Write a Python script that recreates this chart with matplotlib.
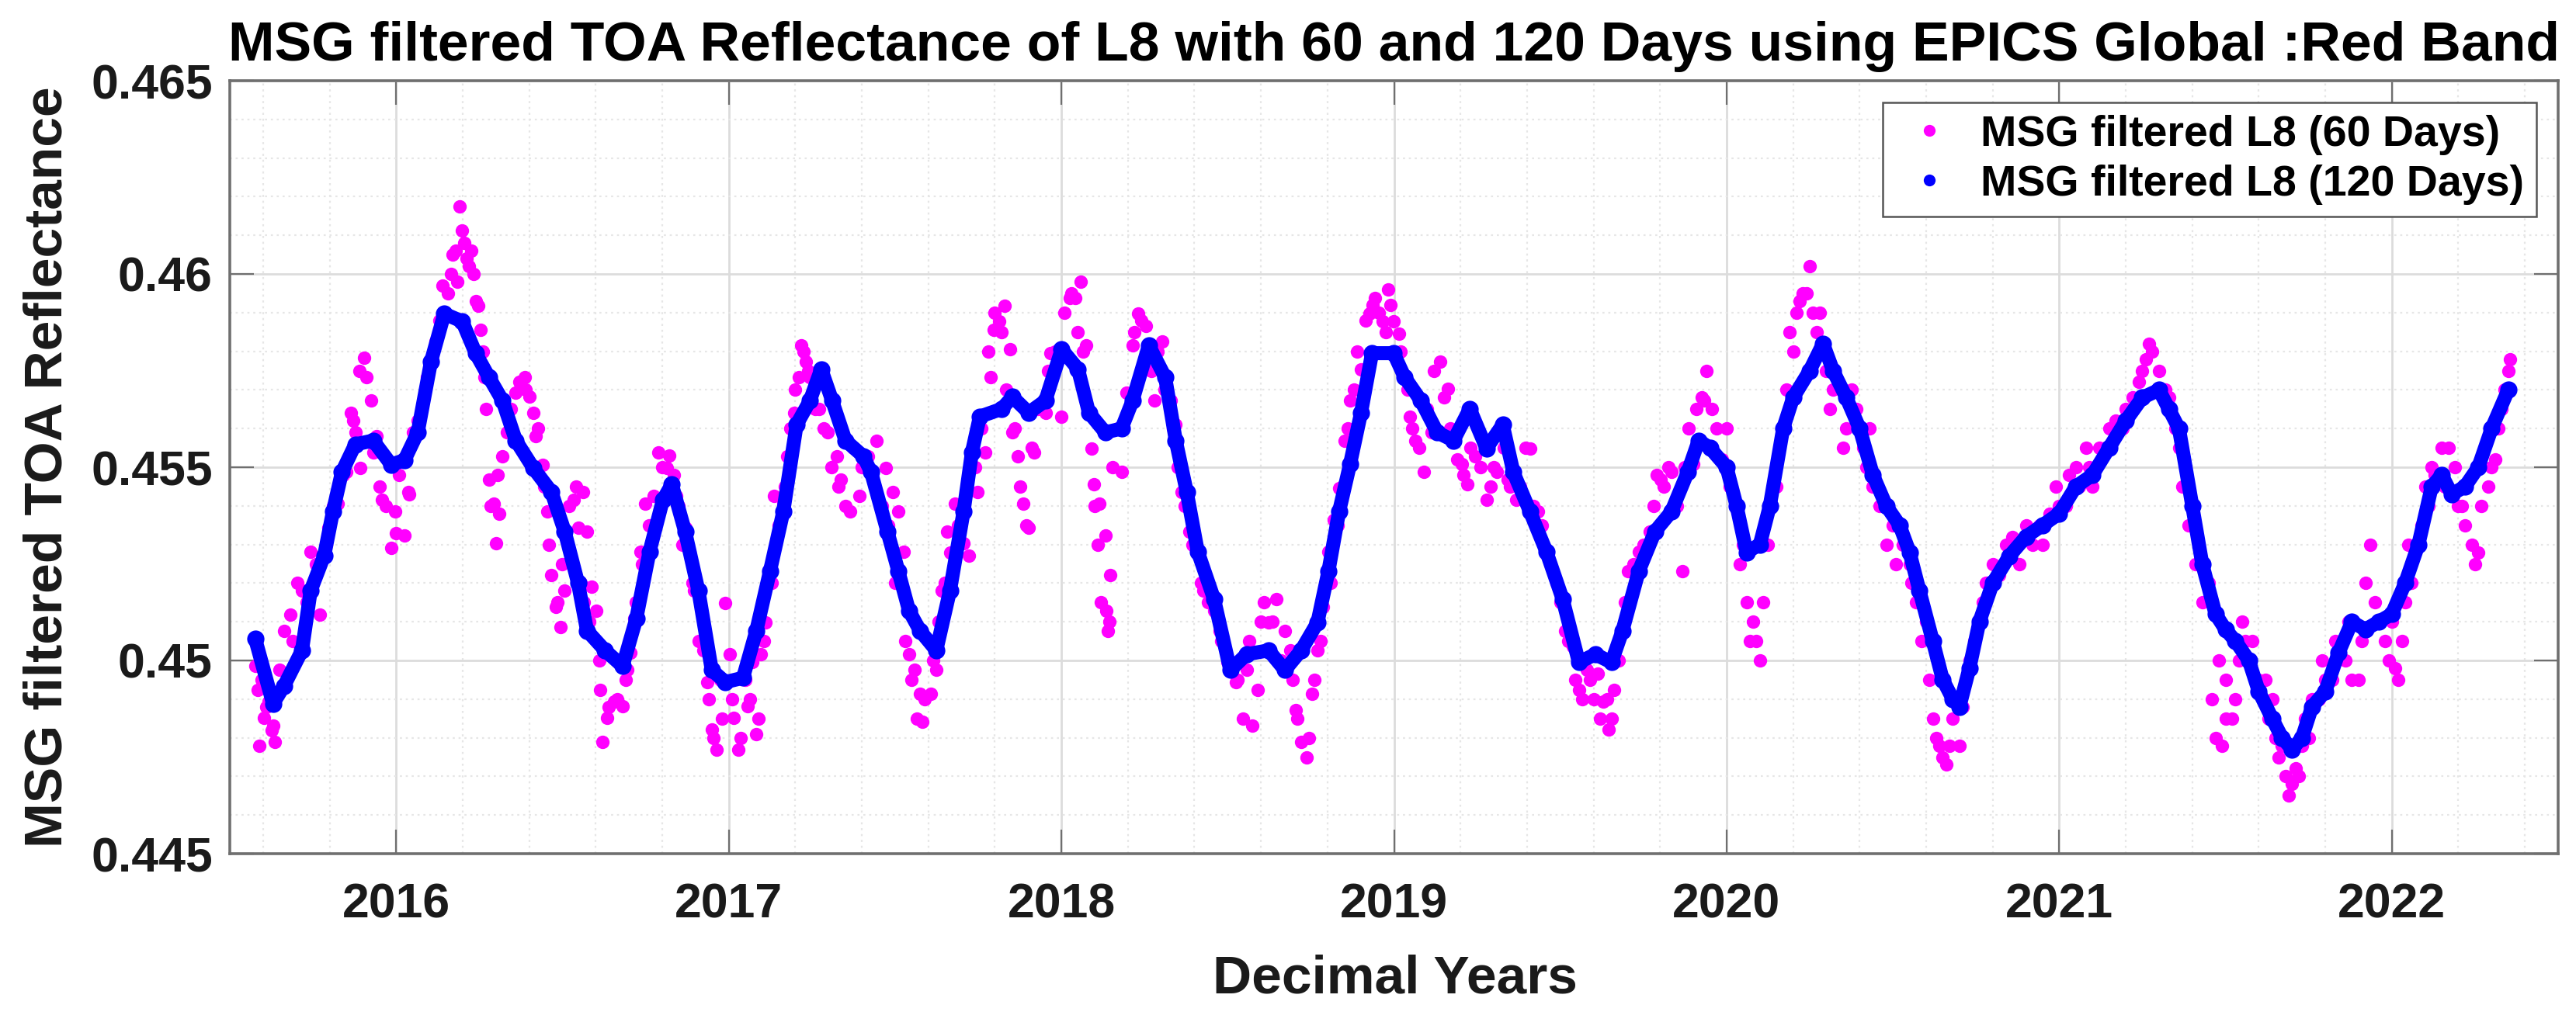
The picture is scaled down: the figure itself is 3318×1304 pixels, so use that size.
import matplotlib
matplotlib.use("Agg")
import matplotlib.pyplot as plt
from matplotlib.lines import Line2D
from matplotlib.ticker import MultipleLocator, FixedLocator

# ---------------- data ----------------
# 120-day filtered series (blue)
years_120 = [2015.576, 2015.630, 2015.663, 2015.717, 2015.743, 2015.784, 2015.810, 2015.837, 2015.877, 2015.931,
             2015.985, 2016.025, 2016.065, 2016.105, 2016.145, 2016.199, 2016.239, 2016.279, 2016.320, 2016.360,
             2016.413, 2016.467, 2016.507, 2016.547, 2016.574, 2016.628, 2016.681, 2016.722, 2016.762, 2016.802,
             2016.829, 2016.869, 2016.909, 2016.949, 2016.990, 2017.043, 2017.083, 2017.124, 2017.164, 2017.204,
             2017.244, 2017.278, 2017.311, 2017.351, 2017.405, 2017.428, 2017.477, 2017.510, 2017.542, 2017.575,
             2017.624, 2017.665, 2017.706, 2017.731, 2017.755, 2017.821, 2017.853, 2017.902, 2017.952, 2018.001,
             2018.050, 2018.083, 2018.132, 2018.181, 2018.214, 2018.263, 2018.312, 2018.344, 2018.377, 2018.410,
             2018.459, 2018.508, 2018.557, 2018.623, 2018.672, 2018.721, 2018.770, 2018.803, 2018.835, 2018.868,
             2018.901, 2018.934, 2018.999, 2019.032, 2019.081, 2019.130, 2019.179, 2019.228, 2019.278, 2019.327,
             2019.359, 2019.409, 2019.458, 2019.507, 2019.556, 2019.605, 2019.654, 2019.687, 2019.736, 2019.785,
             2019.834, 2019.883, 2019.916, 2019.950, 2020.000, 2020.030, 2020.060, 2020.100, 2020.130, 2020.170,
             2020.200, 2020.250, 2020.290, 2020.320, 2020.360, 2020.400, 2020.440, 2020.480, 2020.520, 2020.550,
             2020.580, 2020.620, 2020.650, 2020.680, 2020.700, 2020.730, 2020.760, 2020.800, 2020.850, 2020.900,
             2020.950, 2021.000, 2021.050, 2021.100, 2021.150, 2021.200, 2021.250, 2021.300, 2021.330, 2021.360,
             2021.400, 2021.430, 2021.470, 2021.500, 2021.530, 2021.570, 2021.600, 2021.640, 2021.670, 2021.700,
             2021.730, 2021.760, 2021.800, 2021.840, 2021.880, 2021.920, 2021.960, 2022.000, 2022.040, 2022.080,
             2022.120, 2022.150, 2022.180, 2022.220, 2022.260, 2022.300, 2022.350]
refl_120 = [0.45057, 0.44888, 0.44934, 0.45026, 0.45180, 0.45272, 0.45385, 0.45487, 0.45559, 0.45569,
            0.45507, 0.45518, 0.45590, 0.45774, 0.45897, 0.45877, 0.45795, 0.45733, 0.45672, 0.45569,
            0.45497, 0.45436, 0.45333, 0.45200, 0.45077, 0.45026, 0.44985, 0.45108, 0.45282, 0.45415,
            0.45456, 0.45333, 0.45180, 0.44975, 0.44944, 0.44955, 0.45077, 0.45231, 0.45385, 0.45610,
            0.45672, 0.45754, 0.45672, 0.45569, 0.45528, 0.45487, 0.45334, 0.45231, 0.45129, 0.45077,
            0.45026, 0.45180, 0.45385, 0.45538, 0.45631, 0.45651, 0.45682, 0.45641, 0.45672, 0.45805,
            0.45754, 0.45641, 0.45590, 0.45600, 0.45672, 0.45815, 0.45733, 0.45569, 0.45436, 0.45282,
            0.45159, 0.44975, 0.45016, 0.45026, 0.44975, 0.45026, 0.45098, 0.45231, 0.45385, 0.45508,
            0.45641, 0.45795, 0.45795, 0.45733, 0.45672, 0.45590, 0.45569, 0.45651, 0.45549, 0.45610,
            0.45487, 0.45385, 0.45282, 0.45159, 0.44995, 0.45016, 0.44995, 0.45077, 0.45231, 0.45334,
            0.45385, 0.45487, 0.45569, 0.45550, 0.45500, 0.45400, 0.45280, 0.45300, 0.45400, 0.45600,
            0.45680, 0.45750, 0.45820, 0.45750, 0.45680, 0.45600, 0.45480, 0.45400, 0.45350, 0.45280,
            0.45180, 0.45050, 0.44950, 0.44900, 0.44880, 0.44980, 0.45100, 0.45200, 0.45270, 0.45320,
            0.45350, 0.45380, 0.45450, 0.45480, 0.45550, 0.45620, 0.45680, 0.45700, 0.45650, 0.45600,
            0.45400, 0.45250, 0.45120, 0.45080, 0.45050, 0.45000, 0.44920, 0.44850, 0.44800, 0.44770,
            0.44800, 0.44880, 0.44920, 0.45020, 0.45100, 0.45080, 0.45100, 0.45120, 0.45200, 0.45300,
            0.45450, 0.45480, 0.45430, 0.45450, 0.45500, 0.45600, 0.45700]

# 60-day filtered series (magenta), first reading pass
years_60a = [2015.576, 2015.583, 2015.589, 2015.603, 2015.616, 2015.630, 2015.636, 2015.650, 2015.663, 2015.683,
             2015.703, 2015.717, 2015.743, 2015.770, 2015.797, 2015.824, 2015.851, 2015.864, 2015.877, 2015.891,
             2015.904, 2015.911, 2015.924, 2015.931, 2015.958, 2015.985, 2015.998, 2016.025, 2016.038, 2016.052,
             2016.065, 2016.092, 2016.119, 2016.139, 2016.166, 2016.179, 2016.192, 2016.199, 2016.212, 2016.226,
             2016.232, 2016.246, 2016.253, 2016.266, 2016.279, 2016.293, 2016.300, 2016.320, 2016.333, 2016.360,
             2016.387, 2016.400, 2016.413, 2016.427, 2016.440, 2016.454, 2016.467, 2016.480, 2016.494, 2016.507,
             2016.534, 2016.547, 2016.561, 2016.574, 2016.588, 2016.601, 2016.614, 2016.621, 2016.635, 2016.655,
             2016.681, 2016.695, 2016.715, 2016.735, 2016.748, 2016.775, 2016.788, 2016.815, 2016.842, 2016.869,
             2016.882, 2016.896, 2016.923, 2016.936, 2016.949, 2016.963, 2016.990, 2017.003, 2017.016, 2017.030,
             2017.057, 2017.070, 2017.083, 2017.097, 2017.110, 2017.124, 2017.137, 2017.164, 2017.177, 2017.197,
             2017.211, 2017.217, 2017.231, 2017.244, 2017.271, 2017.298, 2017.325, 2017.338, 2017.365, 2017.392,
             2017.418, 2017.445, 2017.472, 2017.493, 2017.510, 2017.526, 2017.542, 2017.559, 2017.575, 2017.583,
             2017.608, 2017.624, 2017.641, 2017.657, 2017.681, 2017.706, 2017.722, 2017.747, 2017.772, 2017.788,
             2017.796, 2017.812, 2017.829, 2017.845, 2017.853, 2017.870, 2017.886, 2017.902, 2017.919, 2017.952,
             2017.968, 2018.001, 2018.025, 2018.042, 2018.058, 2018.074, 2018.091, 2018.099, 2018.115, 2018.132,
             2018.148, 2018.136, 2018.140, 2018.181, 2018.197, 2018.214, 2018.230, 2018.254, 2018.279, 2018.303,
             2018.328, 2018.344, 2018.361, 2018.385, 2018.410, 2018.426, 2018.459, 2018.475, 2018.500, 2018.525,
             2018.557, 2018.574, 2018.590, 2018.623, 2018.647, 2018.672, 2018.688, 2018.705, 2018.721, 2018.737,
             2018.754, 2018.770, 2018.786, 2018.803, 2018.819, 2018.835, 2018.852, 2018.868, 2018.901, 2018.926,
             2018.942, 2018.967, 2018.983, 2018.999, 2019.016, 2019.032, 2019.048, 2019.065, 2019.089, 2019.114,
             2019.138, 2019.163, 2019.179, 2019.204, 2019.220, 2019.245, 2019.278, 2019.310, 2019.343, 2019.368,
             2019.409, 2019.433, 2019.458, 2019.490, 2019.515, 2019.539, 2019.556, 2019.580, 2019.613, 2019.629,
             2019.646, 2019.662, 2019.687, 2019.703, 2019.736, 2019.769, 2019.801, 2019.834, 2019.867, 2019.899,
             2019.932, 2020.000, 2020.050, 2020.080, 2020.100, 2020.150, 2020.200, 2020.230, 2020.250, 2020.280,
             2020.320, 2020.350, 2020.400, 2020.450, 2020.500, 2020.550, 2020.600, 2020.630, 2020.660, 2020.700,
             2020.720, 2020.760, 2020.800, 2020.850, 2020.900, 2020.950, 2021.000, 2021.050, 2021.100, 2021.150,
             2021.200, 2021.250, 2021.280, 2021.320, 2021.350, 2021.400, 2021.450, 2021.480, 2021.500, 2021.530,
             2021.560, 2021.600, 2021.630, 2021.660, 2021.690, 2021.720, 2021.750, 2021.800, 2021.850, 2021.900,
             2021.950, 2022.000, 2022.020, 2022.050, 2022.100, 2022.150, 2022.200, 2022.250, 2022.300, 2022.350]
refl_60a = [0.44985, 0.44923, 0.44780, 0.44852, 0.44893, 0.44831, 0.44790, 0.44975, 0.45077, 0.45118,
            0.45200, 0.45180, 0.45282, 0.45118, 0.45344, 0.45405, 0.45487, 0.45641, 0.45590, 0.45497,
            0.45784, 0.45733, 0.45672, 0.45538, 0.45415, 0.45292, 0.45385, 0.45323, 0.45436, 0.45590,
            0.45620, 0.45733, 0.45825, 0.45969, 0.46000, 0.46061, 0.46174, 0.46112, 0.46041, 0.46061,
            0.46000, 0.45918, 0.45856, 0.45733, 0.45467, 0.45405, 0.45303, 0.45528, 0.45590, 0.45692,
            0.45733, 0.45682, 0.45641, 0.45600, 0.45507, 0.45385, 0.45221, 0.45139, 0.45087, 0.45180,
            0.45415, 0.45344, 0.45436, 0.45333, 0.45190, 0.45128, 0.44923, 0.44790, 0.44852, 0.44893,
            0.44882, 0.44975, 0.45108, 0.45282, 0.45405, 0.45426, 0.45538, 0.45497, 0.45426, 0.45344,
            0.45282, 0.45180, 0.45026, 0.44944, 0.44821, 0.44770, 0.45149, 0.45016, 0.44852, 0.44770,
            0.44882, 0.44995, 0.44810, 0.45016, 0.45098, 0.45241, 0.45426, 0.45405, 0.45528, 0.45641,
            0.45733, 0.45815, 0.45774, 0.45733, 0.45651, 0.45590, 0.45528, 0.45467, 0.45385, 0.45426,
            0.45528, 0.45569, 0.45497, 0.45436, 0.45385, 0.45282, 0.45016, 0.44975, 0.44913, 0.44841,
            0.44913, 0.44975, 0.45180, 0.45333, 0.45405, 0.45303, 0.45272, 0.45436, 0.45538, 0.45733,
            0.45856, 0.45877, 0.45918, 0.45805, 0.45590, 0.45528, 0.45405, 0.45344, 0.45538, 0.45641,
            0.45795, 0.45631, 0.45938, 0.45938, 0.45979, 0.45815, 0.45549, 0.45456, 0.45405, 0.45323,
            0.45221, 0.45128, 0.45077, 0.45487, 0.45692, 0.45815, 0.45897, 0.45866, 0.45672, 0.45825,
            0.45672, 0.45610, 0.45436, 0.45333, 0.45282, 0.45180, 0.45128, 0.45077, 0.44995, 0.44944,
            0.44975, 0.44831, 0.44923, 0.45098, 0.45159, 0.45077, 0.45026, 0.44872, 0.44790, 0.44749,
            0.44913, 0.45026, 0.45139, 0.45282, 0.45364, 0.45446, 0.45569, 0.45672, 0.45754, 0.45897,
            0.45938, 0.45877, 0.45959, 0.45877, 0.45846, 0.45733, 0.45631, 0.45569, 0.45487, 0.45590,
            0.45774, 0.45702, 0.45590, 0.45508, 0.45456, 0.45528, 0.45415, 0.45487, 0.45467, 0.45415,
            0.45549, 0.45385, 0.45282, 0.45200, 0.45077, 0.45036, 0.44923, 0.44975, 0.44965, 0.44893,
            0.44821, 0.44923, 0.45077, 0.45231, 0.45282, 0.45333, 0.45467, 0.45487, 0.45231, 0.45508,
            0.45672, 0.45600, 0.45300, 0.45100, 0.45000, 0.45450, 0.45800, 0.45950, 0.46020, 0.45900,
            0.45700, 0.45550, 0.45600, 0.45450, 0.45350, 0.45250, 0.45100, 0.44800, 0.44730, 0.44780,
            0.44950, 0.45100, 0.45250, 0.45280, 0.45350, 0.45300, 0.45400, 0.45500, 0.45450, 0.45600,
            0.45650, 0.45750, 0.45800, 0.45700, 0.45600, 0.45400, 0.45200, 0.45000, 0.44850, 0.44900,
            0.45050, 0.44950, 0.44850, 0.44750, 0.44650, 0.44700, 0.44800, 0.44950, 0.45050, 0.44950,
            0.45150, 0.45100, 0.44950, 0.45300, 0.45450, 0.45550, 0.45400, 0.45250, 0.45500, 0.45750]

# 60-day filtered series (magenta), second reading pass (points in the dense clusters)
years_60b = [2015.595, 2015.610, 2015.625, 2015.645, 2015.690, 2015.730, 2015.760, 2015.790, 2015.810, 2015.840,
             2015.870, 2015.890, 2015.940, 2015.950, 2015.970, 2016.000, 2016.010, 2016.040, 2016.130, 2016.155,
             2016.170, 2016.185, 2016.205, 2016.220, 2016.240, 2016.260, 2016.270, 2016.285, 2016.305, 2016.310,
             2016.345, 2016.370, 2016.390, 2016.420, 2016.445, 2016.460, 2016.485, 2016.500, 2016.520, 2016.540,
             2016.555, 2016.565, 2016.580, 2016.610, 2016.640, 2016.665, 2016.690, 2016.705, 2016.720, 2016.740,
             2016.760, 2016.800, 2016.820, 2016.835, 2016.850, 2016.860, 2016.890, 2016.910, 2016.940, 2016.955,
             2016.975, 2016.980, 2017.010, 2017.035, 2017.050, 2017.065, 2017.090, 2017.105, 2017.130, 2017.150,
             2017.170, 2017.185, 2017.200, 2017.225, 2017.240, 2017.260, 2017.285, 2017.310, 2017.330, 2017.350,
             2017.375, 2017.400, 2017.430, 2017.460, 2017.480, 2017.500, 2017.530, 2017.550, 2017.565, 2017.590,
             2017.615, 2017.630, 2017.650, 2017.665, 2017.690, 2017.740, 2017.760, 2017.780, 2017.800, 2017.820,
             2017.835, 2017.860, 2017.875, 2017.895, 2017.910, 2017.930, 2017.960, 2017.980, 2018.010, 2018.030,
             2018.050, 2018.065, 2018.080, 2018.100, 2018.110, 2018.120, 2018.145, 2018.155, 2018.170, 2018.220,
             2018.240, 2018.260, 2018.270, 2018.290, 2018.310, 2018.335, 2018.350, 2018.370, 2018.395, 2018.420,
             2018.440, 2018.480, 2018.510, 2018.530, 2018.545, 2018.565, 2018.600, 2018.610, 2018.635, 2018.660,
             2018.695, 2018.710, 2018.745, 2018.760, 2018.780, 2018.810, 2018.830, 2018.845, 2018.860, 2018.880,
             2018.890, 2018.915, 2018.935, 2018.955, 2018.975, 2018.990, 2019.020, 2019.040, 2019.055, 2019.075,
             2019.100, 2019.120, 2019.150, 2019.170, 2019.190, 2019.210, 2019.230, 2019.260, 2019.290, 2019.300,
             2019.330, 2019.350, 2019.380, 2019.395, 2019.420, 2019.445, 2019.470, 2019.500, 2019.525, 2019.545,
             2019.565, 2019.590, 2019.600, 2019.620, 2019.640, 2019.655, 2019.675, 2019.695, 2019.720, 2019.750,
             2019.780, 2019.790, 2019.810, 2019.825, 2019.850, 2019.875, 2019.885, 2019.910, 2019.925, 2019.940,
             2019.955, 2019.970, 2019.985, 2020.010, 2020.025, 2020.040, 2020.060, 2020.070, 2020.090, 2020.110,
             2020.125, 2020.140, 2020.165, 2020.180, 2020.190, 2020.210, 2020.220, 2020.240, 2020.260, 2020.270,
             2020.290, 2020.300, 2020.310, 2020.360, 2020.375, 2020.390, 2020.410, 2020.420, 2020.430, 2020.440,
             2020.460, 2020.480, 2020.510, 2020.530, 2020.555, 2020.570, 2020.585, 2020.610, 2020.620, 2020.640,
             2020.650, 2020.670, 2020.680, 2020.690, 2020.710, 2020.730, 2020.745, 2020.770, 2020.780, 2020.820,
             2020.840, 2020.860, 2020.880, 2020.920, 2020.940, 2020.970, 2020.990, 2021.020, 2021.030, 2021.060,
             2021.080, 2021.090, 2021.120, 2021.140, 2021.170, 2021.190, 2021.220, 2021.240, 2021.260, 2021.270,
             2021.300, 2021.310, 2021.330, 2021.360, 2021.370, 2021.390, 2021.410, 2021.430, 2021.460, 2021.470,
             2021.490, 2021.500, 2021.520, 2021.540, 2021.550, 2021.580, 2021.620, 2021.640, 2021.650, 2021.670,
             2021.680, 2021.700, 2021.710, 2021.730, 2021.740, 2021.760, 2021.780, 2021.790, 2021.820, 2021.830,
             2021.860, 2021.870, 2021.880, 2021.910, 2021.920, 2021.935, 2021.960, 2021.980, 2021.990, 2022.010,
             2022.030, 2022.040, 2022.060, 2022.080, 2022.090, 2022.110, 2022.120, 2022.130, 2022.160, 2022.170,
             2022.190, 2022.210, 2022.220, 2022.240, 2022.260, 2022.270, 2022.290, 2022.310, 2022.320, 2022.330,
             2022.340, 2022.355]
refl_60b = [0.4495, 0.4488, 0.4482, 0.4492, 0.4505, 0.4515, 0.4525, 0.4530, 0.4540, 0.4548,
            0.4562, 0.4575, 0.4558, 0.4545, 0.4540, 0.4533, 0.4548, 0.4543, 0.4588, 0.4595,
            0.4605, 0.4598, 0.4608, 0.4602, 0.4593, 0.4580, 0.4565, 0.4540, 0.4548, 0.4538,
            0.4565, 0.4572, 0.4570, 0.4558, 0.4545, 0.4530, 0.4515, 0.4525, 0.4540, 0.4545,
            0.4520, 0.4515, 0.4510, 0.4500, 0.4488, 0.4490, 0.4495, 0.4502, 0.4515, 0.4525,
            0.4535, 0.4550, 0.4553, 0.4548, 0.4540, 0.4530, 0.4520, 0.4505, 0.4490, 0.4480,
            0.4495, 0.4485, 0.4490, 0.4480, 0.4495, 0.4490, 0.4485, 0.4505, 0.4520, 0.4535,
            0.4545, 0.4560, 0.4570, 0.4580, 0.4575, 0.4565, 0.4560, 0.4550, 0.4545, 0.4540,
            0.4555, 0.4550, 0.4548, 0.4540, 0.4535, 0.4520, 0.4505, 0.4495, 0.4485, 0.4490,
            0.4500, 0.4510, 0.4520, 0.4528, 0.4535, 0.4550, 0.4560, 0.4580, 0.4590, 0.4585,
            0.4570, 0.4560, 0.4545, 0.4535, 0.4555, 0.4565, 0.4575, 0.4580, 0.4590, 0.4595,
            0.4585, 0.4580, 0.4565, 0.4540, 0.4530, 0.4515, 0.4510, 0.4550, 0.4560, 0.4585,
            0.4588, 0.4580, 0.4575, 0.4580, 0.4570, 0.4560, 0.4550, 0.4540, 0.4530, 0.4520,
            0.4515, 0.4505, 0.4498, 0.4495, 0.4485, 0.4505, 0.4510, 0.4515, 0.4510, 0.4500,
            0.4495, 0.4485, 0.4480, 0.4495, 0.4505, 0.4520, 0.4535, 0.4545, 0.4560, 0.4570,
            0.4580, 0.4588, 0.4592, 0.4590, 0.4585, 0.4592, 0.4580, 0.4570, 0.4560, 0.4555,
            0.4565, 0.4575, 0.4568, 0.4560, 0.4552, 0.4548, 0.4555, 0.4550, 0.4545, 0.4550,
            0.4555, 0.4545, 0.4545, 0.4555, 0.4540, 0.4535, 0.4525, 0.4515, 0.4505, 0.4495,
            0.4490, 0.4495, 0.4490, 0.4485, 0.4490, 0.4485, 0.4500, 0.4515, 0.4525, 0.4530,
            0.4540, 0.4548, 0.4545, 0.4550, 0.4540, 0.4550, 0.4560, 0.4565, 0.4568, 0.4575,
            0.4565, 0.4560, 0.4552, 0.4545, 0.4540, 0.4525, 0.4515, 0.4505, 0.4505, 0.4515,
            0.4530, 0.4545, 0.4560, 0.4570, 0.4585, 0.4590, 0.4593, 0.4595, 0.4590, 0.4585,
            0.4580, 0.4575, 0.4565, 0.4560, 0.4570, 0.4565, 0.4555, 0.4550, 0.4560, 0.4545,
            0.4540, 0.4530, 0.4525, 0.4530, 0.4520, 0.4515, 0.4505, 0.4495, 0.4485, 0.4478,
            0.4475, 0.4478, 0.4485, 0.4490, 0.4488, 0.4500, 0.4505, 0.4515, 0.4520, 0.4522,
            0.4530, 0.4532, 0.4525, 0.4530, 0.4535, 0.4538, 0.4545, 0.4540, 0.4548, 0.4545,
            0.4555, 0.4550, 0.4555, 0.4555, 0.4562, 0.4560, 0.4568, 0.4572, 0.4578, 0.4582,
            0.4575, 0.4570, 0.4568, 0.4555, 0.4545, 0.4535, 0.4525, 0.4515, 0.4490, 0.4480,
            0.4478, 0.4495, 0.4485, 0.4500, 0.4510, 0.4505, 0.4495, 0.4490, 0.4480, 0.4478,
            0.4470, 0.4468, 0.4472, 0.4478, 0.4485, 0.4490, 0.4490, 0.4500, 0.4495, 0.4505,
            0.4500, 0.4510, 0.4495, 0.4505, 0.4520, 0.4530, 0.4510, 0.4505, 0.4500, 0.4498,
            0.4505, 0.4515, 0.4520, 0.4530, 0.4535, 0.4540, 0.4550, 0.4548, 0.4545, 0.4555,
            0.4550, 0.4540, 0.4535, 0.4530, 0.4528, 0.4540, 0.4545, 0.4552, 0.4560, 0.4565,
            0.4570, 0.4578]

years_60 = years_60a + years_60b
refl_60 = refl_60a + refl_60b

x_ticks = [2016, 2017, 2018, 2019, 2020, 2021, 2022]
y_ticks = [0.445, 0.45, 0.455, 0.46, 0.465]
y_tick_labels = ["0.445", "0.45", "0.455", "0.46", "0.465"]

title_text = "MSG filtered TOA Reflectance of L8 with 60 and 120 Days using EPICS Global :Red Band"
label_60 = "MSG filtered L8 (60 Days)"
label_120 = "MSG filtered L8 (120 Days)"

# ---------------- figure ----------------
W, H, DPI = 3318, 1304, 100
plt.rcParams['font.family'] = ['Liberation Sans', 'DejaVu Sans']
plt.rcParams['font.weight'] = 'bold'
fig = plt.figure(figsize=(W / DPI, H / DPI), dpi=DPI)
fig.patch.set_facecolor('white')

ax_l, ax_r, ax_t, ax_b = 296, 3295, 104, 1100
ax = fig.add_axes([ax_l / W, 1 - ax_b / H, (ax_r - ax_l) / W, (ax_b - ax_t) / H])

MAG = '#ff00ff'
BLU = '#0000ff'
ax.plot(years_60, refl_60, linestyle='none', color=MAG, marker='o', markersize=12.5,
        markeredgewidth=0, zorder=3)
ax.plot(years_120, refl_120, linestyle='-', linewidth=13, color=BLU, marker='o', markersize=16,
        markeredgewidth=0, zorder=4, solid_capstyle='round', solid_joinstyle='round')

ax.set_xlim(2015.5, 2022.5)
ax.set_ylim(0.445, 0.465)
ax.xaxis.set_major_locator(FixedLocator(x_ticks))
ax.xaxis.set_minor_locator(MultipleLocator(0.2))
ax.yaxis.set_major_locator(FixedLocator(y_ticks))
ax.set_yticklabels(y_tick_labels)
ax.set_xticklabels([str(t) for t in x_ticks])
ax.yaxis.set_minor_locator(MultipleLocator(0.001))

axis_col = '#6f6f6f'
for s in ax.spines.values():
    s.set_color(axis_col)
    s.set_linewidth(2.6)
ax.tick_params(which='major', direction='in', length=22, width=1.6, color=axis_col,
               top=True, right=True, labelsize=45, labelcolor='#1a1a1a')
ax.tick_params(axis='x', which='major', pad=26)
ax.tick_params(axis='y', which='major', pad=16)
ax.tick_params(which='minor', length=0, top=True, right=True)
for lab in ax.get_xticklabels() + ax.get_yticklabels():
    lab.set_fontweight('bold')

ax.grid(which='major', color='#dcdcdc', linewidth=2.0, linestyle='-', zorder=0)
ax.grid(which='minor', color='#e6e6e6', linewidth=1.6, linestyle=(0, (1.2, 2.2)), zorder=0)
ax.set_axisbelow(True)

# legend
handles = [Line2D([], [], linestyle='none', marker='o', markersize=11, markeredgewidth=0, color=MAG),
           Line2D([], [], linestyle='none', marker='o', markersize=11, markeredgewidth=0, color=BLU)]
leg = ax.legend(handles, [label_60, label_120], loc='upper right',
                bbox_to_anchor=((3267 - ax_l) / (ax_r - ax_l), (ax_b - 132) / (ax_b - ax_t)),
                borderaxespad=0, fancybox=False, framealpha=1, edgecolor='#555555',
                prop={'size': 40, 'weight': 'bold'}, borderpad=0.28, labelspacing=0.22,
                handlelength=1.6, handletextpad=0.4)
leg.get_frame().set_linewidth(1.8)
leg.set_zorder(10)

# title (fit to the reference width)
cx = (ax_l + ax_r) / 2 / W
t = fig.text(cx, 1 - 78 / H, title_text, ha='center', va='baseline', fontsize=46,
             fontweight='bold', color='black')
fig.canvas.draw()
bb = t.get_window_extent()
t.set_fontsize(46 * 3002 / bb.width)

fig.text(1797 / W, 1 - 1280 / H, "Decimal Years", ha='center', va='baseline', fontsize=50,
         fontweight='bold', color='#1a1a1a')
fig.text(62 / W, 1 - 602 / H, "MSG filtered TOA Reflectance", ha='center', va='center',
         rotation=90, fontsize=50, fontweight='bold', color='#1a1a1a')

fig.savefig('out.png', dpi=DPI, facecolor='white')
